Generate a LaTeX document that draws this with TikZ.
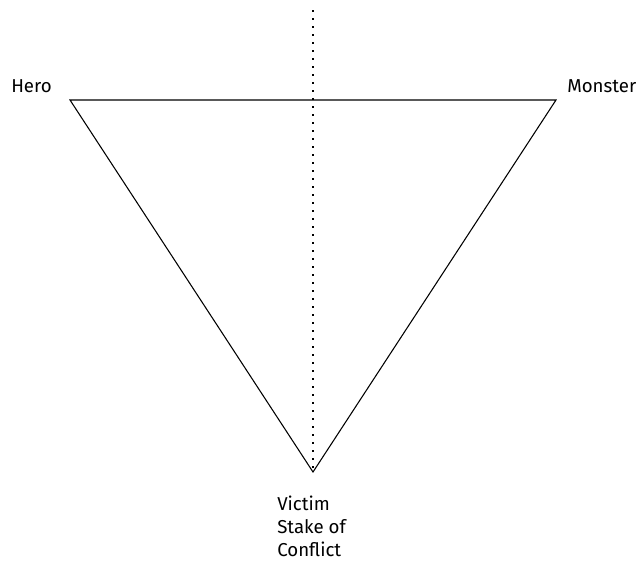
\documentclass[tikz,border=0pt]{standalone}
\usepackage{fontspec}
\setmainfont{Fira Sans}
\usepackage{tikz}
\usetikzlibrary{positioning}

\begin{document}
\begin{tikzpicture}[x=0.75pt, y=-0.75pt,
    font=\fontsize{14}{17}\selectfont,
    role/.style={inner sep=0pt, anchor=base west, align=left}]
  \useasboundingbox (0,0) rectangle (643,561);
  % corners of the triangle
  \coordinate (hero)   at (70,100);
  \coordinate (monster) at (556,100);
  \coordinate (victim) at (313,472);
  \coordinate (top)    at (313,10);
  % triangle
  \draw[line width=0.8pt] (hero) -- (monster) -- (victim) -- cycle;
  % axis
  \draw[line width=1.3pt, dash pattern=on 1.3pt off 4.7pt] (top) -- (victim);
  % labels
  \node[role] (herolbl) at (11,92) {Hero};
  \node[role] (monsterlbl) at (567,92) {Monster};
  \node[role] (victimlbl) at (277,556) {Victim\\Stake of\\Conflict};
\end{tikzpicture}
\end{document}
